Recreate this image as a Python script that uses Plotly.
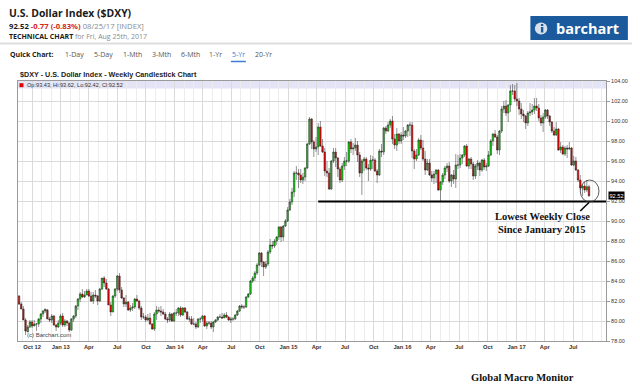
import plotly.graph_objects as go
import pandas as pd

# ---------------- data (weekly bars, week starting Monday) ----------------
first_week = "2012-08-20"

opens = [
    # 2012
    82.5, 81.7, 81.2, 80.1, 78.9, 79.4, 79.9, 79.5, 79.7, 79.7, 80.2, 80.7, 81.0, 81.1, 80.2, 80.1, 80.5, 79.6, 79.4,
    # 2013
    79.8, 80.5, 79.6, 80.0, 79.8, 79.1, 80.2, 80.5, 81.5, 82.2, 82.7, 82.4, 82.6, 83.0, 82.5, 82.0, 82.6, 82.5, 82.0, 83.2,
    84.3, 83.8, 83.2, 81.6, 80.9, 82.5, 83.2, 84.5, 83.1, 82.3, 81.7, 81.9, 81.1, 81.3, 81.4, 82.2, 82.0, 81.3, 80.4, 80.4,
    80.1, 80.3, 79.7, 79.2, 80.7, 81.1, 81.0, 80.9, 80.7, 80.2, 80.1, 80.7,
    # 2014
    80.0, 80.8, 80.8, 81.3, 80.6, 81.3, 80.9, 80.2, 80.2, 79.7, 79.7, 79.4, 80.2, 80.2, 80.5, 79.5, 79.8, 79.8, 79.4, 79.9,
    80.1, 80.4, 80.4, 80.3, 80.6, 80.4, 80.1, 80.2, 80.2, 80.6, 81.0, 81.5, 81.4, 81.4, 82.4, 82.7, 84.0, 84.3, 84.8, 85.6,
    86.8, 85.9, 85.4, 85.7, 86.9, 87.6, 87.5, 88.0, 88.4, 89.4, 88.4, 89.5,
    # 2015
    90.0, 91.1, 91.9, 92.9, 94.8, 94.8, 94.6, 94.1, 94.4, 95.3, 97.7, 100.2, 97.9, 97.2, 97.4, 99.4, 97.5, 96.9, 95.0, 94.8,
    93.2, 96.0, 96.9, 96.3, 95.2, 94.1, 95.5, 96.0, 96.0, 97.9, 97.2, 97.3, 97.6, 96.6, 94.8, 96.0, 96.2, 95.3, 95.2, 96.1,
    96.1, 95.0, 94.6, 97.0, 96.9, 99.3, 99.0, 99.6, 100.0, 98.2, 97.6, 98.7,
    # 2016
    98.0, 98.6, 98.5, 99.0, 99.6, 99.6, 97.0, 96.2, 96.6, 98.1, 97.3, 96.2, 95.1, 95.8, 94.6, 94.3, 94.7, 95.1, 93.1, 93.9,
    94.6, 95.3, 95.5, 94.0, 94.6, 94.2, 95.6, 95.6, 96.3, 96.6, 97.5, 95.5, 96.2, 95.7, 94.5, 95.5, 95.8, 95.1, 96.1, 95.4,
    95.5, 96.6, 98.0, 98.7, 98.4, 97.1, 99.0, 101.2, 101.5, 100.8, 101.6, 103.0, 103.0,
    # 2017
    102.2, 102.0, 101.2, 100.7, 100.5, 99.8, 100.8, 100.9, 101.1, 101.5, 101.3, 100.3, 99.8, 100.4, 101.1, 100.5, 99.9,
    99.0, 98.6, 99.2, 97.1, 97.4, 96.7, 97.3, 97.2, 97.3, 95.6, 96.0, 95.1, 94.1, 93.3, 93.5, 93.1, 93.43,
]

highs = [
    # 2012
    82.6, 81.9, 81.5, 80.3, 79.6, 80.1, 80.1, 80.1, 79.8, 80.3, 80.8, 81.1, 81.2, 81.2, 80.4, 80.7, 80.6, 79.7, 80.1,
    # 2013
    80.7, 80.8, 80.2, 80.1, 79.9, 80.3, 80.6, 81.6, 82.3, 82.9, 83.2, 83.0, 83.2, 83.2, 82.9, 82.9, 83.1, 82.6, 83.3, 84.3,
    84.5, 84.2, 83.3, 81.9, 82.6, 83.3, 84.6, 84.8, 83.4, 82.4, 82.6, 82.0, 81.6, 81.8, 82.3, 82.6, 82.1, 81.5, 80.8, 80.6,
    80.7, 80.8, 79.8, 80.9, 81.5, 81.4, 81.5, 81.2, 80.9, 80.4, 80.9, 80.8,
    # 2014
    80.9, 81.2, 81.4, 81.5, 81.4, 81.4, 81.0, 80.5, 80.5, 80.3, 79.9, 80.3, 80.4, 80.6, 80.6, 80.0, 80.0, 80.0, 80.0, 80.2,
    80.5, 80.7, 80.8, 80.8, 80.9, 80.5, 80.4, 80.4, 80.7, 81.1, 81.6, 81.7, 81.6, 82.5, 82.8, 84.1, 84.5, 85.0, 85.8, 86.9,
    86.9, 86.0, 86.0, 87.1, 88.2, 88.0, 88.2, 88.5, 89.5, 89.5, 89.6, 90.2,
    # 2015
    91.4, 92.2, 93.3, 95.0, 95.5, 95.2, 95.2, 94.8, 95.4, 97.8, 100.4, 100.3, 98.1, 98.4, 99.8, 100.0, 98.2, 97.3, 96.0, 95.3,
    96.1, 97.3, 97.3, 96.4, 95.4, 95.8, 96.4, 96.9, 98.0, 98.2, 97.8, 98.3, 98.0, 96.9, 96.2, 96.4, 96.4, 95.7, 96.6, 96.5,
    96.3, 95.2, 97.2, 97.7, 99.4, 99.5, 99.9, 100.2, 100.5, 98.7, 99.3, 98.8,
    # 2016
    98.9, 99.4, 99.1, 99.7, 99.9, 99.9, 97.2, 97.2, 98.3, 98.6, 98.1, 97.0, 96.2, 96.2, 95.0, 95.0, 95.2, 95.2, 94.0, 94.8,
    95.5, 95.8, 95.9, 94.7, 95.1, 96.7, 96.6, 96.7, 96.7, 97.6, 97.7, 96.3, 96.4, 95.9, 95.7, 96.1, 95.9, 96.2, 96.3, 95.8,
    97.0, 98.2, 98.8, 99.1, 98.6, 99.1, 101.5, 102.0, 102.1, 101.7, 103.6, 103.7, 103.6,
    # 2017
    103.8, 102.3, 101.8, 101.1, 100.6, 101.0, 101.8, 101.7, 102.3, 102.3, 101.7, 100.6, 100.8, 101.2, 101.2, 100.6, 100.0,
    99.4, 99.9, 99.3, 97.9, 97.6, 97.5, 97.6, 97.9, 97.4, 96.5, 96.4, 95.2, 94.6, 93.7, 93.9, 94.1, 93.62,
]

lows = [
    # 2012
    81.6, 81.2, 80.1, 78.6, 78.9, 79.3, 79.3, 79.5, 79.0, 79.4, 79.8, 80.4, 80.8, 80.2, 79.9, 79.8, 79.5, 79.0, 79.3,
    # 2013
    79.6, 79.4, 79.4, 79.5, 78.9, 79.0, 79.9, 80.3, 81.1, 81.9, 82.3, 82.3, 82.6, 82.4, 81.9, 81.7, 82.3, 81.6, 81.9, 83.1,
    83.4, 83.1, 81.6, 80.5, 80.9, 82.3, 83.0, 82.8, 82.2, 81.4, 81.4, 81.0, 80.9, 81.0, 81.2, 81.9, 81.1, 80.1, 80.2, 79.9,
    80.0, 79.6, 79.1, 79.0, 80.1, 80.8, 80.5, 80.6, 80.1, 79.8, 79.9, 79.9,
    # 2014
    79.9, 80.5, 80.5, 80.4, 80.5, 80.8, 80.1, 79.9, 79.6, 79.6, 79.2, 79.3, 79.8, 79.9, 79.4, 79.2, 79.6, 79.2, 78.9, 79.8,
    80.0, 80.3, 80.2, 80.3, 80.3, 80.0, 79.8, 80.0, 80.1, 80.5, 80.9, 81.2, 81.2, 81.3, 82.3, 82.6, 83.8, 84.0, 84.6, 85.5,
    85.4, 84.5, 85.2, 85.5, 86.7, 87.2, 87.3, 87.6, 88.1, 87.9, 88.0, 89.4,
    # 2015
    89.9, 91.0, 91.6, 92.4, 94.1, 93.3, 93.8, 93.7, 94.0, 95.2, 97.6, 97.2, 96.4, 96.9, 96.6, 97.4, 96.8, 94.5, 94.4, 93.1,
    93.1, 95.8, 95.4, 94.4, 93.8, 93.9, 95.1, 95.5, 95.8, 96.8, 96.6, 97.0, 95.9, 94.4, 92.6, 95.0, 95.1, 94.0, 95.0, 95.2,
    94.9, 93.8, 94.5, 96.4, 96.6, 98.7, 98.9, 99.3, 97.7, 97.2, 97.0, 97.7,
    # 2016
    97.7, 98.1, 98.3, 98.4, 98.5, 96.3, 95.2, 96.0, 96.5, 97.1, 96.0, 94.6, 95.0, 94.5, 93.9, 93.7, 93.8, 93.0, 91.9, 93.6,
    94.2, 94.9, 93.8, 93.4, 93.7, 93.3, 95.2, 95.3, 95.7, 96.4, 95.4, 95.2, 95.2, 94.1, 94.2, 95.1, 94.5, 94.9, 95.1, 95.0,
    95.4, 96.5, 97.5, 98.3, 96.7, 96.6, 98.8, 100.8, 100.5, 99.9, 100.9, 102.6, 101.9,
    # 2017
    101.5, 100.6, 100.2, 99.9, 99.2, 99.5, 100.5, 100.6, 100.7, 101.0, 100.0, 99.5, 98.9, 100.2, 100.2, 99.5, 98.8,
    98.5, 98.5, 97.0, 96.8, 96.6, 96.5, 96.3, 97.1, 95.5, 95.5, 95.0, 93.9, 93.1, 92.5, 92.8, 92.9, 92.42,
]

closes = [
    # 2012
    81.7, 81.2, 80.1, 79.0, 79.4, 79.9, 79.5, 79.7, 79.7, 80.2, 80.7, 81.0, 81.2, 80.2, 80.1, 80.5, 79.6, 79.4, 79.8,
    # 2013
    80.5, 79.6, 80.0, 79.8, 79.1, 80.2, 80.5, 81.5, 82.2, 82.7, 82.4, 82.6, 83.0, 82.5, 82.0, 82.6, 82.5, 82.0, 83.2, 84.3,
    83.8, 83.2, 81.6, 80.9, 82.5, 83.2, 84.5, 83.1, 82.3, 81.7, 81.9, 81.1, 81.3, 81.4, 82.2, 82.0, 81.3, 80.4, 80.4, 80.1,
    80.3, 79.7, 79.2, 80.7, 81.1, 81.0, 80.9, 80.7, 80.2, 80.1, 80.7, 80.0,
    # 2014
    80.8, 80.8, 81.3, 80.6, 81.3, 80.9, 80.2, 80.2, 79.7, 79.7, 79.4, 80.2, 80.2, 80.5, 79.5, 79.8, 79.8, 79.4, 79.9, 80.1,
    80.4, 80.4, 80.3, 80.6, 80.4, 80.1, 80.2, 80.2, 80.6, 81.0, 81.5, 81.4, 81.4, 82.4, 82.7, 84.0, 84.3, 84.8, 85.6, 86.8,
    85.9, 85.4, 85.7, 86.9, 87.6, 87.5, 88.0, 88.4, 89.4, 88.4, 89.5, 90.0,
    # 2015
    91.1, 91.9, 92.9, 94.8, 94.8, 94.6, 94.1, 94.4, 95.3, 97.7, 100.2, 97.9, 97.2, 97.4, 99.4, 97.5, 96.9, 95.0, 94.8, 93.2,
    96.0, 96.9, 96.3, 95.2, 94.1, 95.5, 96.0, 96.0, 97.9, 97.2, 97.3, 97.6, 96.6, 94.8, 96.0, 96.2, 95.3, 95.2, 96.1, 96.1,
    95.0, 94.6, 97.0, 96.9, 99.3, 99.0, 99.6, 100.0, 98.2, 97.6, 98.7, 98.0,
    # 2016
    98.6, 98.5, 99.0, 99.6, 99.6, 97.0, 96.2, 96.6, 98.1, 97.3, 96.2, 95.1, 95.8, 94.6, 94.3, 94.7, 95.1, 93.1, 93.9, 94.6,
    95.3, 95.5, 94.0, 94.6, 94.2, 95.6, 95.6, 96.3, 96.6, 97.5, 95.5, 96.2, 95.7, 94.5, 95.5, 95.8, 95.1, 96.1, 95.4, 95.5,
    96.6, 98.0, 98.7, 98.4, 97.1, 99.0, 101.2, 101.5, 100.8, 101.6, 103.0, 103.0, 102.2,
    # 2017
    102.0, 101.2, 100.7, 100.5, 99.8, 100.8, 100.9, 101.1, 101.5, 101.3, 100.3, 99.8, 100.4, 101.1, 100.5, 99.9, 99.0,
    98.6, 99.2, 97.1, 97.4, 96.7, 97.3, 97.2, 97.3, 95.6, 96.0, 95.1, 94.1, 93.3, 93.5, 93.1, 93.43, 92.52,
]

tick_dates = ["2012-10-01", "2013-01-01", "2013-04-01", "2013-07-01", "2013-10-01", "2014-01-01",
              "2014-04-01", "2014-07-01", "2014-10-01", "2015-01-01", "2015-04-01", "2015-07-01",
              "2015-10-01", "2016-01-01", "2016-04-01", "2016-07-01", "2016-10-01", "2017-01-01",
              "2017-04-01", "2017-07-01"]
tick_labels = ["Oct 12", "Jan 13", "Apr", "Jul", "Oct", "Jan 14", "Apr", "Jul", "Oct", "Jan 15",
               "Apr", "Jul", "Oct", "Jan 16", "Apr", "Jul", "Oct", "Jan 17", "Apr", "Jul"]

quick_ranges = ["1-Day", "5-Day", "1-Mth", "3-Mth", "6-Mth", "1-Yr", "5-Yr", "20-Yr"]
quick_x = [75, 103.5, 133, 162.5, 191.5, 217, 239.5, 264.5]

support_level = 91.95
support_from = "2015-04-06"
x_start, x_end = "2012-08-16 19:30", "2017-10-14 12:00"

week_starts = pd.date_range(first_week, periods=len(closes), freq="7D")

# ---------------- layout helpers ----------------
W, H = 640, 387
L, R, T, B = 18, 609, 81, 341


def px(x):
    return (x - L) / (R - L)


def py(y):
    return (B - y) / (B - T)


SANS = "Liberation Sans"
HEAD = "Open Sans"
SERIF = "Liberation Serif"

fig = go.Figure()
fig.add_trace(go.Candlestick(
    x=week_starts, open=opens, high=highs, low=lows, close=closes,
    increasing=dict(fillcolor="#12d012", line=dict(color="#262626", width=0.5)),
    decreasing=dict(fillcolor="#ec0000", line=dict(color="#262626", width=0.5)),
    whiskerwidth=0, showlegend=False, hoverinfo="skip",
))

annotations = []


def ann(text, x, y, size, color="#222", family=SANS, xanchor="left", **kw):
    annotations.append(dict(text=text, x=x, y=y, xref="paper", yref="paper",
                            xanchor=xanchor, yanchor="middle", showarrow=False,
                            font=dict(size=size, color=color, family=family), **kw))


ann("<b>U.S. Dollar Index ($DXY)</b>", px(7), py(13), 10.4, "#1a1a1a", HEAD)
ann("<b>%.2f</b> <b><span style='color:#d3261c'>-0.77 (-0.83%%)</span></b> "
    "<span style='color:#8a8a8a'>08/25/17 [INDEX]</span>" % closes[-1], px(7), py(25.5), 7.7, "#1a1a1a", HEAD)
ann("<b>TECHNICAL CHART</b> <span style='color:#8a8a8a'>for Fri, Aug 25th, 2017</span>",
    px(7), py(36.5), 7, "#1a1a1a", HEAD)
ann("<b>Quick Chart:</b>", px(7.5), py(55), 7, "#1a1a1a", HEAD)
for lbl, xc in zip(quick_ranges, quick_x):
    ann(lbl, px(xc), py(55), 7, "#3b7dd8" if lbl == "5-Yr" else "#555555", HEAD, xanchor="center")
ann("<b>barchart</b>", px(590.5), py(28.5), 14.5, "#ffffff", HEAD, xanchor="center")
ann("<b>$DXY - U.S. Dollar Index - Weekly Candlestick Chart</b>", px(17.5), py(74), 7.2, "#222")
ann("Op:%.2f, Hi:%.2f, Lo:%.2f, Cl:%.2f" % (opens[-1], highs[-1], lows[-1], closes[-1]),
    px(25), py(85), 5.6, "#333")
ann("(c) Barchart.com", px(25.5), py(335), 6, "#444")
ann("<b>Lowest Weekly Close</b>", px(545), py(216.5), 10.5, "#111", SERIF, xanchor="center")
ann("<b>Since January 2015</b>", px(545), py(229), 10.5, "#111", SERIF, xanchor="center")
ann("<b>Global Macro Monitor</b>", px(525), py(377), 10.5, "#111", SERIF, xanchor="center")
annotations.append(dict(text="%.2f" % closes[-1], x=px(611), y=closes[-1], xref="paper", yref="y",
                        xanchor="left", yanchor="middle", showarrow=False, bgcolor="#000000",
                        borderpad=0.5, font=dict(size=5.6, color="#ffffff", family=SANS)))

shapes = [
    # legend band at top of plot
    dict(type="rect", xref="paper", yref="paper", x0=0, x1=1, y0=py(88.5), y1=1,
         fillcolor="#e4e4f7", line=dict(width=0), layer="between"),
    dict(type="rect", xref="paper", yref="paper", x0=px(19.5), x1=px(23.5), y0=py(87.2), y1=py(83.2),
         fillcolor="#e00000", line=dict(width=0)),
    # header separator
    dict(type="line", xref="paper", yref="paper", x0=px(0), x1=px(635), y0=py(43.5), y1=py(43.5),
         line=dict(color="#dddddd", width=2)),
    # 5-Yr underline
    dict(type="line", xref="paper", yref="paper", x0=px(232), x1=px(247), y0=py(61.5), y1=py(61.5),
         line=dict(color="#3b7dd8", width=1.5)),
    # logo
    dict(type="rect", xref="paper", yref="paper", x0=px(533), x1=px(631), y0=py(40), y1=py(16),
         fillcolor="#1b5b9d", line=dict(width=0)),
    dict(type="circle", xref="paper", yref="paper", x0=px(537.5), x1=px(550), y0=py(34.5), y1=py(22.5),
         fillcolor="#d8e1eb", line=dict(width=0)),
    dict(type="rect", xref="paper", yref="paper", x0=px(543.6), x1=px(546), y0=py(32.5), y1=py(27),
         fillcolor="#1b5b9d", line=dict(width=0)),
    dict(type="rect", xref="paper", yref="paper", x0=px(543.6), x1=px(546), y0=py(26), y1=py(24),
         fillcolor="#1b5b9d", line=dict(width=0)),
    # support line
    dict(type="line", xref="x", yref="y", x0=support_from, x1=x_end, y0=support_level, y1=support_level,
         line=dict(color="#000000", width=2)),
    # circle around last bars
    dict(type="circle", xref="x", yref="y", x0="2017-07-24", x1="2017-09-22", y0=91.9, y1=94.1,
         line=dict(color="#333333", width=0.8)),
    # pointer
    dict(type="line", xref="x", yref="y", x0="2017-08-21", y0=91.85, x1="2017-07-24", y1=91.0,
         line=dict(color="#000000", width=1.5)),
]

fig.update_layout(
    width=W, height=H, autosize=False,
    margin=dict(l=L, r=W - R, t=T, b=H - B, pad=0),
    paper_bgcolor="#ffffff", plot_bgcolor="#ffffff",
    showlegend=False, hovermode=False, boxgap=0,
    annotations=annotations, shapes=shapes,
    xaxis=dict(
        type="date", range=[x_start, x_end], tickmode="array", tickvals=tick_dates, ticktext=tick_labels,
        tickfont=dict(family=SANS, size=5.8, color="#333333", weight="bold"),
        showgrid=True, gridcolor="#dadada", gridwidth=1,
        minor=dict(tickmode="linear", tick0="2012-09-01", dtick="M1", showgrid=True,
                   gridcolor="#ececec", gridwidth=1),
        showline=True, linecolor="#9a9a9a", linewidth=1, mirror=True, ticks="",
        rangeslider=dict(visible=False), fixedrange=True, zeroline=False,
    ),
    yaxis=dict(
        side="right", range=[78, 104], tickmode="linear", tick0=78, dtick=2, tickformat=".2f",
        tickfont=dict(family=SANS, size=5.5, color="#333333"),
        showgrid=True, gridcolor="#dadada", gridwidth=1,
        ticks="outside", ticklen=3, tickcolor="#999999",
        showline=True, linecolor="#9a9a9a", linewidth=1, mirror=True, zeroline=False, fixedrange=True,
    ),
)

fig.write_html("out.html", include_plotlyjs=True,
               config={"displayModeBar": False, "staticPlot": True},
               post_script="document.body.style.margin='0';document.body.style.padding='0';"
                           "document.body.style.overflow='hidden';")
